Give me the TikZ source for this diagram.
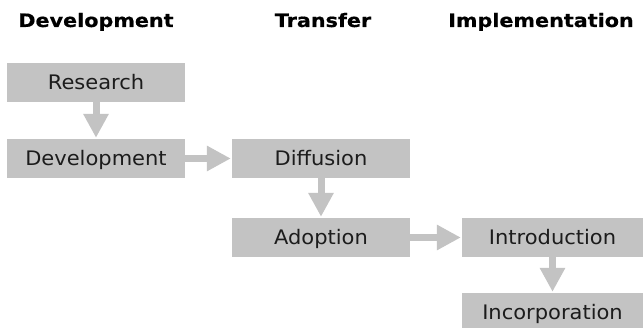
\documentclass[tikz,border=0pt]{standalone}
\usepackage{fontspec}
\setmainfont{DejaVu Sans}
\newfontfamily\headfont[FakeStretch=1.12,FakeBold=0.6]{DejaVu Sans Bold}
\newfontfamily\boxfont[FakeStretch=1.05]{DejaVu Sans}
\usetikzlibrary{arrows.meta}
\definecolor{boxgray}{RGB}{195,195,195}
\definecolor{inkdark}{RGB}{28,28,28}
\begin{document}
\begin{tikzpicture}[x=1pt,y=-1pt,
  stage/.style={rectangle, fill=boxgray, minimum width=178pt, minimum height=39pt,
    inner sep=0pt, text=inkdark, font=\boxfont\fontsize{20}{24}\selectfont,
    text height=14.6pt, text depth=0pt},
  heading/.style={anchor=base, text=black, inner sep=0pt,
    font=\headfont\fontsize{18.5}{22}\selectfont},
  flow/.style={draw=boxgray, line width=7pt,
    -{Triangle[width=24pt,length=24pt]}, shorten >=1pt}
]
\useasboundingbox (0,0) rectangle (643,328);
\fill[white] (0,0) rectangle (643,328);

% column headings
\node[heading] (hdev) at (96,27) {Development};
\node[heading] (htra) at (323,27) {Transfer};
\node[heading, anchor=base west] (himp) at (448,27) {Implementation};

% stages
\node[stage] (research)      at (96,82.5)    {Research};
\node[stage] (development)   at (96,158.5)   {Development};
\node[stage] (diffusion)     at (321,158.5)  {Diffusion};
\node[stage] (adoption)      at (321,237.5)  {Adoption};
\node[stage, minimum width=181pt] (introduction)  at (552.5,237.5) {Introduction};
\node[stage, minimum width=181pt] (incorporation) at (552.5,312.5) {Incorporation};

% flow between stages
\draw[flow] (research.south) -- (development.north);
\draw[flow] (development.east) -- (diffusion.west);
\draw[flow] (diffusion.south) -- (adoption.north);
\draw[flow] (adoption.east) -- (introduction.west);
\draw[flow] (introduction.south) -- (incorporation.north);
\end{tikzpicture}
\end{document}
